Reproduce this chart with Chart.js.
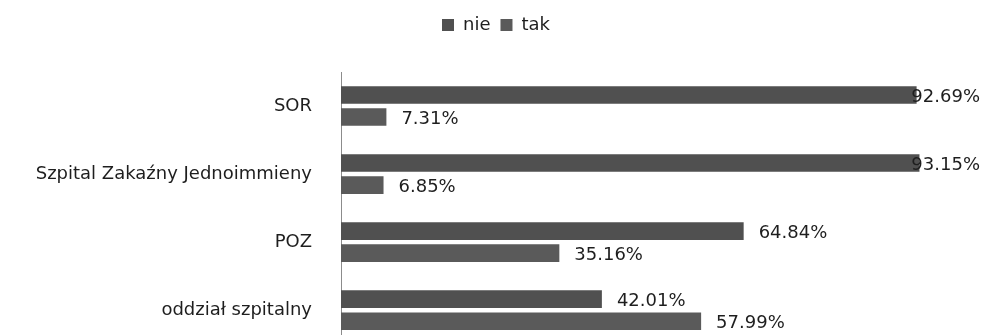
<!DOCTYPE html>
<html>
<head>
<meta charset="utf-8">
<script src="https://cdn.jsdelivr.net/npm/chart.js@4.4.1/dist/chart.umd.min.js"></script>
<style>
  html, body { margin: 0; padding: 0; background: #ffffff; overflow: hidden; }
  canvas { display: block; }
</style>
</head>
<body>
<canvas id="chart" width="983" height="384"></canvas>
<script>
// Facility categories, top to bottom
const categories = ['SOR', 'Szpital Zakaźny Jednoimmieny', 'POZ', 'oddział szpitalny'];
// Share of answers, in percent
const nieValues = [92.69, 93.15, 64.84, 42.01];
const takValues = [7.31, 6.85, 35.16, 57.99];
const seriesNames = ['nie', 'tak'];

const FONT = 'DejaVu Sans';

// Percentage labels placed just past the end of each bar, kept inside the canvas
const valueLabels = {
  id: 'valueLabels',
  afterDatasetsDraw(chart) {
    const ctx = chart.ctx;
    ctx.save();
    ctx.font = '18px "' + FONT + '"';
    ctx.fillStyle = '#1e1e1e';
    ctx.textAlign = 'left';
    ctx.textBaseline = 'middle';
    chart.data.datasets.forEach((ds, di) => {
      chart.getDatasetMeta(di).data.forEach((bar, i) => {
        const txt = ds.data[i].toFixed(2) + '%';
        const w = ctx.measureText(txt).width;
        let x = bar.x + 15;
        if (x + w > 980) x = 980 - w;
        ctx.fillText(txt, x, bar.y + 2);
      });
    });
    ctx.restore();
  }
};

// Nudge the legend a little to the right of the canvas centre
const legendShift = {
  id: 'legendShift',
  afterLayout(chart) {
    if (chart.legend) {
      chart.legend.left += 15;
      chart.legend.right += 15;
    }
  }
};

new Chart(document.getElementById('chart'), {
  type: 'bar',
  data: {
    labels: categories,
    datasets: [
      { label: seriesNames[0], data: nieValues, backgroundColor: '#505050' },
      { label: seriesNames[1], data: takValues, backgroundColor: '#5a5a5a' }
    ]
  },
  options: {
    indexAxis: 'y',
    responsive: false,
    animation: false,
    categoryPercentage: 0.647,
    barPercentage: 0.8,
    layout: { padding: { top: 6, right: 21, bottom: 6, left: 0 } },
    plugins: {
      legend: {
        position: 'top',
        align: 'center',
        labels: {
          boxWidth: 12,
          boxHeight: 12,
          padding: 10,
          color: '#1e1e1e',
          font: { family: FONT, size: 18 }
        }
      },
      tooltip: { enabled: false }
    },
    scales: {
      x: {
        position: 'top',
        min: 0,
        max: 100,
        grid: { display: false },
        border: { display: false },
        ticks: { display: false },
        afterFit(scale) { scale.height = 28; }
      },
      y: {
        grid: { display: false, drawTicks: false },
        border: { display: true, color: '#8c8c8c', width: 1 },
        ticks: {
          color: '#1e1e1e',
          padding: 29,
          font: { family: FONT, size: 18 }
        },
        afterFit(scale) { scale.width = 341; }
      }
    }
  },
  plugins: [valueLabels, legendShift]
});
</script>
</body>
</html>
